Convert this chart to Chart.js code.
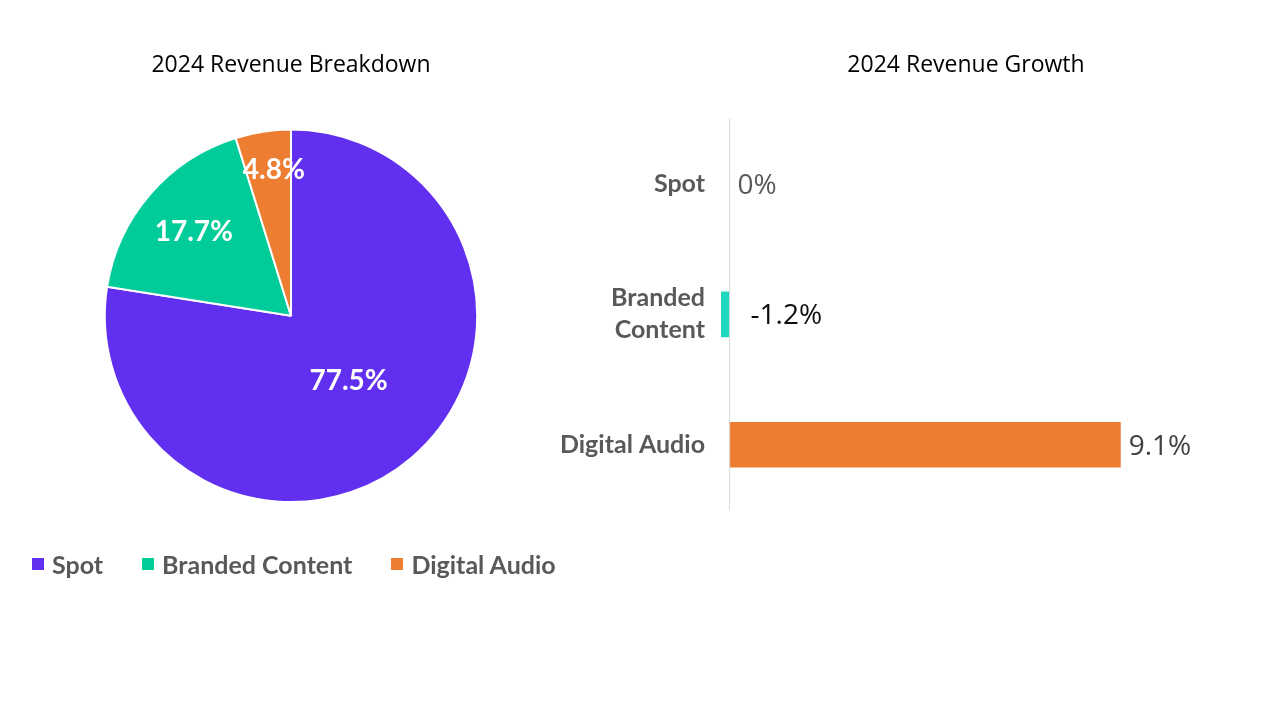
<!DOCTYPE html>
<html lang="en">
<head>
  <meta charset="UTF-8" />
  <title>2024 Revenue</title>
  <script src="https://cdn.jsdelivr.net/npm/chart.js"></script>
  <style>
    body {
      margin: 0;
      width: 1280px;
      height: 720px;
      background: #fff;
      overflow: hidden;
      position: relative;
      font-family: Lato, sans-serif;
    }
    .box {
      position: absolute;
      top: 0;
      height: 600px;
    }
    #pieBox { left: 0; width: 590px; }
    #barBox { left: 500px; width: 780px; }

    #legend {
      position: absolute;
      left: 32px;
      top: 548px;
      height: 32px;
      display: flex;
      align-items: center;
      font-size: 25px;
      font-weight: bold;
      color: #595959;
    }
    .item {
      display: flex;
      align-items: center;
      margin-right: 39px;
    }
    .swatch {
      width: 12px;
      height: 12px;
      margin-right: 8px;
    }
  </style>
</head>
<body>
  <div class="box" id="pieBox"><canvas id="pieChart"></canvas></div>
  <div class="box" id="barBox"><canvas id="barChart"></canvas></div>
  <div id="legend"></div>

  <script>
    // Datos
    const categories = ["Spot", "Branded Content", "Digital Audio"];
    const barLabels = [["Spot"], ["Branded", "Content"], ["Digital Audio"]];
    const share = [77.5, 17.7, 4.8];      // % of 2024 revenue
    const growth = [0, -1.2, 9.1];        // % growth 2024

    const pieColors = ["#612ff0", "#00cc99", "#ed7d31"];
    const barColors = ["#612ff0", "#1ed8c0", "#ed7d31"];

    // leyenda
    const legend = document.getElementById("legend");
    categories.forEach((c, i) => {
      const item = document.createElement("div");
      item.className = "item";
      const sw = document.createElement("span");
      sw.className = "swatch";
      sw.style.background = pieColors[i];
      const txt = document.createElement("span");
      txt.textContent = c;
      item.appendChild(sw);
      item.appendChild(txt);
      legend.appendChild(item);
    });

    // etiquetas del pie (radio relativo por porción)
    const pieLabelPlugin = {
      id: "pieLabels",
      afterDatasetsDraw(chart) {
        const ctx = chart.ctx;
        const meta = chart.getDatasetMeta(0);
        const fr = [0.46, 0.69, 0.79];
        const shift = [2, 0, 5];
        ctx.save();
        ctx.font = "bold 28px Lato";
        ctx.fillStyle = "#fff";
        ctx.textAlign = "center";
        ctx.textBaseline = "middle";
        meta.data.forEach((arc, i) => {
          const mid = (arc.startAngle + arc.endAngle) / 2;
          const r = arc.outerRadius * fr[i];
          const x = arc.x + Math.cos(mid) * r + shift[i];
          const y = arc.y + Math.sin(mid) * r;
          ctx.fillText(share[i].toFixed(1) + "%", x, y);
        });
        ctx.restore();
      }
    };

    // etiquetas de las barras
    const barLabelPlugin = {
      id: "barLabels",
      afterDraw(chart) {
        const ctx = chart.ctx;
        const meta = chart.getDatasetMeta(0);
        const xs = chart.scales.x;
        const colors = ["#595959", "#0d0d0d", "#404040"];
        ctx.save();
        ctx.font = "28px 'Open Sans'";
        ctx.textAlign = "left";
        ctx.textBaseline = "middle";
        meta.data.forEach((bar, i) => {
          const v = growth[i];
          const x = xs.getPixelForValue(Math.max(v, 0)) + (v < 0 ? 21 : 8);
          ctx.fillStyle = colors[i];
          ctx.fillText((v === 0 ? "0" : v.toFixed(1)) + "%", x, bar.y + 2);
        });
        ctx.restore();
      }
    };

    new Chart(document.getElementById("pieChart"), {
      type: "pie",
      data: {
        labels: categories,
        datasets: [{
          data: share,
          backgroundColor: pieColors,
          borderColor: "#fff",
          borderWidth: 2
        }]
      },
      options: {
        responsive: true,
        maintainAspectRatio: false,
        animation: false,
        layout: { padding: { left: 22, right: 30, top: 0, bottom: 97 } },
        plugins: {
          title: {
            display: true,
            text: "2024 Revenue Breakdown",
            color: "#000",
            font: { family: "Open Sans", size: 23, weight: "normal", lineHeight: 1.2 },
            padding: { top: 52, bottom: 49 }
          },
          legend: { display: false },
          tooltip: { enabled: false }
        }
      },
      plugins: [pieLabelPlugin]
    });

    new Chart(document.getElementById("barChart"), {
      type: "bar",
      data: {
        labels: barLabels,
        datasets: [{
          data: growth,
          backgroundColor: barColors,
          barPercentage: 0.35,
          categoryPercentage: 1
        }]
      },
      options: {
        indexAxis: "y",
        responsive: true,
        maintainAspectRatio: false,
        animation: false,
        layout: { padding: { left: 0, right: 69, top: 0, bottom: 90 } },
        scales: {
          x: {
            min: -0.2,
            max: 11.2,
            afterBuildTicks: axis => { axis.ticks = [{ value: 0 }]; },
            ticks: { display: false },
            border: { display: false },
            grid: { color: "#d9d9d9", drawTicks: false }
          },
          y: {
            afterFit: axis => { axis.width = 221; },
            border: { display: false },
            grid: { display: false },
            ticks: {
              padding: 8,
              color: "#595959",
              font: { family: "Lato", size: 25, weight: "bold", lineHeight: 1.28 }
            }
          }
        },
        plugins: {
          legend: { display: false },
          title: {
            display: true,
            fullSize: false,
            text: "2024 Revenue Growth",
            color: "#000",
            font: { family: "Open Sans", size: 23, weight: "normal", lineHeight: 1.2 },
            padding: { top: 52, bottom: 39 }
          },
          tooltip: { enabled: false }
        }
      },
      plugins: [barLabelPlugin]
    });
  </script>
</body>
</html>
